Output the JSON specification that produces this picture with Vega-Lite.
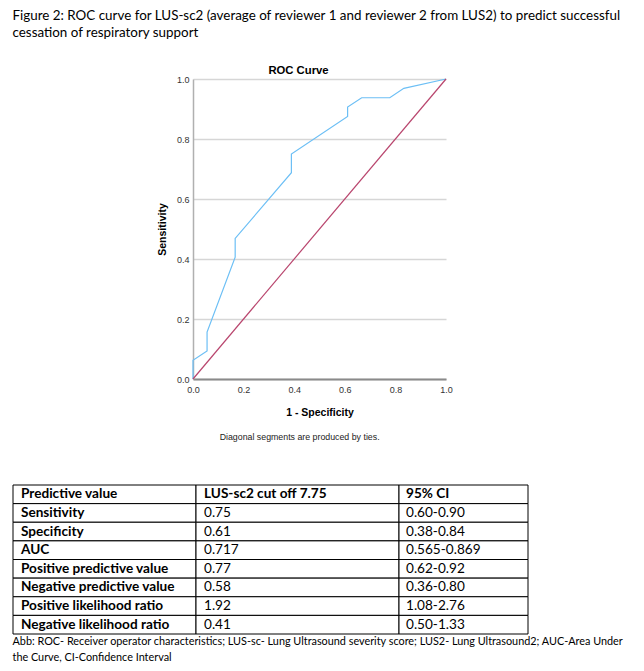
{
  "$schema": "https://vega.github.io/schema/vega-lite/v6.json",
  "padding": {"left": 12, "top": 9, "right": 0, "bottom": 0},
  "background": "white",
  "config": {"view": {"stroke": null}},
  "title": {
    "text": ["Figure 2: ROC curve for LUS-sc2 (average of reviewer 1 and reviewer 2 from LUS2) to predict successful", "cessation of respiratory support"],
    "anchor": "start",
    "font": "Lato",
    "fontSize": 13.4,
    "fontWeight": "normal",
    "lineHeight": 17,
    "color": "#000000",
    "offset": 25
  },
  "datasets": {
    "roc": [
      {"series": "curve", "i": 1, "fpr": 0, "tpr": 0},
      {"series": "curve", "i": 2, "fpr": 0, "tpr": 0.0625},
      {"series": "curve", "i": 3, "fpr": 0.0556, "tpr": 0.09375},
      {"series": "curve", "i": 4, "fpr": 0.0556, "tpr": 0.15625},
      {"series": "curve", "i": 5, "fpr": 0.1667, "tpr": 0.40625},
      {"series": "curve", "i": 6, "fpr": 0.1667, "tpr": 0.46875},
      {"series": "curve", "i": 7, "fpr": 0.3889, "tpr": 0.6875},
      {"series": "curve", "i": 8, "fpr": 0.3889, "tpr": 0.75},
      {"series": "curve", "i": 9, "fpr": 0.6111, "tpr": 0.875},
      {"series": "curve", "i": 10, "fpr": 0.6111, "tpr": 0.90625},
      {"series": "curve", "i": 11, "fpr": 0.6667, "tpr": 0.9375},
      {"series": "curve", "i": 12, "fpr": 0.7778, "tpr": 0.9375},
      {"series": "curve", "i": 13, "fpr": 0.8333, "tpr": 0.96875},
      {"series": "curve", "i": 14, "fpr": 1, "tpr": 1},
      {"series": "ref", "i": 1, "fpr": 0, "tpr": 0},
      {"series": "ref", "i": 2, "fpr": 1, "tpr": 1}
    ],
    "table": [
      {"row": 1, "c1": "Predictive value", "c2": "LUS-sc2 cut off 7.75", "c3": "95% CI"},
      {"row": 2, "c1": "Sensitivity", "c2": "0.75", "c3": "0.60-0.90"},
      {"row": 3, "c1": "Specificity", "c2": "0.61", "c3": "0.38-0.84"},
      {"row": 4, "c1": "AUC", "c2": "0.717", "c3": "0.565-0.869"},
      {"row": 5, "c1": "Positive predictive value", "c2": "0.77", "c3": "0.62-0.92"},
      {"row": 6, "c1": "Negative predictive value", "c2": "0.58", "c3": "0.36-0.80"},
      {"row": 7, "c1": "Positive likelihood ratio", "c2": "1.92", "c3": "1.08-2.76"},
      {"row": 8, "c1": "Negative likelihood ratio", "c2": "0.41", "c3": "0.50-1.33"}
    ]
  },
  "spacing": 42,
  "vconcat": [
    {
      "bounds": "flush",
      "spacing": 0,
      "title": {"text": "Diagonal segments are produced by ties.", "orient": "bottom", "anchor": "middle", "dx": 67, "offset": 15, "font": "Liberation Sans", "fontSize": 8.8, "fontWeight": "normal", "color": "#222222"},
      "hconcat": [
        {"width": 180, "height": 300, "data": {"values": [{}]}, "mark": "text", "encoding": {"text": {"value": ""}}},
        {
          "width": 253,
          "height": 300,
          "data": {"name": "roc"},
          "title": {"text": "ROC Curve", "font": "Liberation Sans", "fontSize": 11.3, "fontWeight": "bold", "offset": -1, "dx": -21, "color": "#000000"},
          "mark": {"type": "line", "strokeWidth": 1.2},
          "encoding": {
            "x": {
              "field": "fpr", "type": "quantitative",
              "scale": {"domain": [0, 1], "nice": false},
              "axis": {
                "values": [0, 0.2, 0.4, 0.6, 0.8, 1], "format": ".1f", "grid": false, "ticks": false,
                "domainColor": "#8a8a8a", "domainWidth": 2, "labelFlush": false, "labelOverlap": false,
                "labelFont": "Liberation Sans", "labelFontSize": 9, "labelColor": "#333333", "labelPadding": 6,
                "title": "1 - Specificity", "titleFont": "Liberation Sans", "titleFontSize": 10.5, "titleFontWeight": "bold", "titleColor": "#000000", "titlePadding": 13
              }
            },
            "y": {
              "field": "tpr", "type": "quantitative",
              "scale": {"domain": [0, 1], "nice": false},
              "axis": {
                "values": [0, 0.2, 0.4, 0.6, 0.8, 1], "format": ".1f", "grid": true, "gridColor": "#d6d6d6", "gridWidth": 1.5, "ticks": false,
                "domainColor": "#b0b0b0", "domainWidth": 1.5, "labelFlush": false, "labelOverlap": false,
                "labelFont": "Liberation Sans", "labelFontSize": 9, "labelColor": "#333333", "labelPadding": 4,
                "title": "Sensitivity", "titleFont": "Liberation Sans", "titleFontSize": 10.5, "titleFontWeight": "bold", "titleColor": "#000000", "titlePadding": 9
              }
            },
            "color": {"field": "series", "type": "nominal", "scale": {"domain": ["curve", "ref"], "range": ["#6cbff5", "#b9466e"]}, "legend": null},
            "order": {"field": "i", "type": "quantitative"}
          }
        }
      ]
    },
    {
      "bounds": "flush",
      "spacing": 0,
      "title": {"text": ["Abb: ROC- Receiver operator characteristics; LUS-sc- Lung Ultrasound severity score; LUS2- Lung Ultrasound2; AUC-Area Under", "the Curve, CI-Confidence Interval"], "orient": "bottom", "anchor": "start", "offset": 1, "lineHeight": 16.5, "font": "Lato", "fontSize": 10.85, "fontWeight": "normal", "color": "#000000"},
      "hconcat": [
        {
          "width": 183, "height": 149,
          "data": {"name": "table"},
          "layer": [
            {"mark": {"type": "rect", "fill": "white", "stroke": "black", "strokeWidth": 1},
             "encoding": {"y": {"field": "row", "type": "ordinal", "axis": null, "scale": {"paddingInner": 0, "paddingOuter": 0}}}},
            {"mark": {"type": "text", "align": "left", "dx": 8, "font": "Lato", "fontSize": 13.6, "fontWeight": "bold", "color": "black"},
             "encoding": {
               "y": {"field": "row", "type": "ordinal", "axis": null},
               "x": {"datum": 0, "type": "quantitative", "scale": {"domain": [0, 1]}, "axis": null},
               "text": {"field": "c1", "type": "nominal"}}}
          ]
        },
        {
          "width": 203, "height": 149,
          "data": {"name": "table"},
          "layer": [
            {"mark": {"type": "rect", "fill": "white", "stroke": "black", "strokeWidth": 1},
             "encoding": {"y": {"field": "row", "type": "ordinal", "axis": null, "scale": {"paddingInner": 0, "paddingOuter": 0}}}},
            {"transform": [{"filter": "datum.row == 1"}],
             "mark": {"type": "text", "align": "left", "dx": 8, "font": "Lato", "fontSize": 13.6, "fontWeight": "bold", "color": "black"},
             "encoding": {
               "y": {"field": "row", "type": "ordinal", "axis": null},
               "x": {"datum": 0, "type": "quantitative", "scale": {"domain": [0, 1]}, "axis": null},
               "text": {"field": "c2", "type": "nominal"}}},
            {"transform": [{"filter": "datum.row > 1"}],
             "mark": {"type": "text", "align": "left", "dx": 8, "font": "Lato", "fontSize": 13.6, "fontWeight": "normal", "color": "black"},
             "encoding": {
               "y": {"field": "row", "type": "ordinal", "axis": null},
               "x": {"datum": 0, "type": "quantitative", "scale": {"domain": [0, 1]}, "axis": null},
               "text": {"field": "c2", "type": "nominal"}}}
          ]
        },
        {
          "width": 129, "height": 149,
          "data": {"name": "table"},
          "layer": [
            {"mark": {"type": "rect", "fill": "white", "stroke": "black", "strokeWidth": 1},
             "encoding": {"y": {"field": "row", "type": "ordinal", "axis": null, "scale": {"paddingInner": 0, "paddingOuter": 0}}}},
            {"transform": [{"filter": "datum.row == 1"}],
             "mark": {"type": "text", "align": "left", "dx": 7, "font": "Lato", "fontSize": 13.6, "fontWeight": "bold", "color": "black"},
             "encoding": {
               "y": {"field": "row", "type": "ordinal", "axis": null},
               "x": {"datum": 0, "type": "quantitative", "scale": {"domain": [0, 1]}, "axis": null},
               "text": {"field": "c3", "type": "nominal"}}},
            {"transform": [{"filter": "datum.row > 1"}],
             "mark": {"type": "text", "align": "left", "dx": 7, "font": "Lato", "fontSize": 13.6, "fontWeight": "normal", "color": "black"},
             "encoding": {
               "y": {"field": "row", "type": "ordinal", "axis": null},
               "x": {"datum": 0, "type": "quantitative", "scale": {"domain": [0, 1]}, "axis": null},
               "text": {"field": "c3", "type": "nominal"}}}
          ]
        }
      ]
    }
  ]
}
